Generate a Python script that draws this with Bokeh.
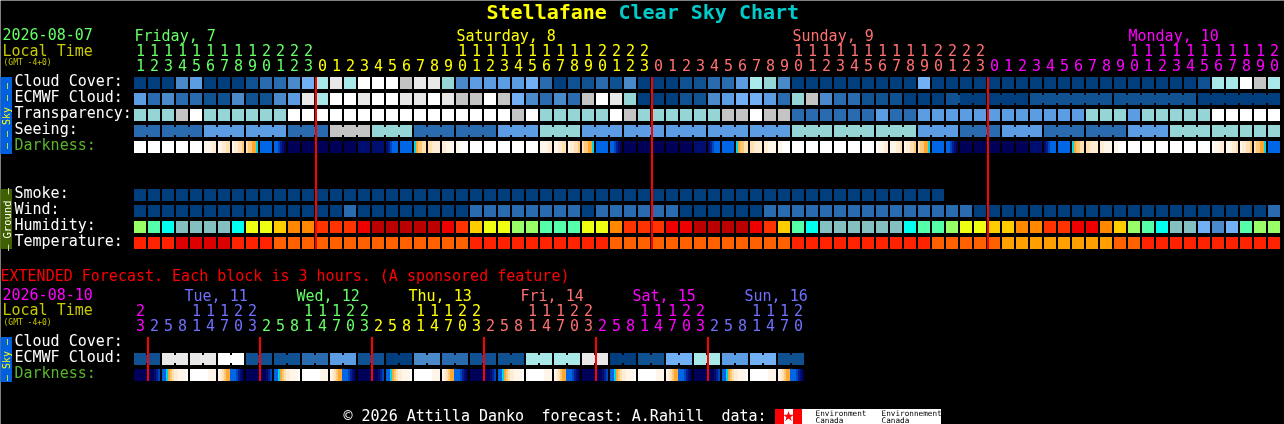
from math import pi
from bokeh.embed import file_html
from bokeh.resources import INLINE
from bokeh.models import Range1d, ColumnDataSource
from bokeh.plotting import figure
from bokeh.core.properties import value

# ---------------- data ----------------
TITLE_A, TITLE_B = "Stellafane", "Clear Sky Chart"
ROW_LABELS_SKY = ["Cloud Cover:", "ECMWF Cloud:", "Transparency:", "Seeing:", "Darkness:"]
ROW_LABELS_GROUND = ["Smoke:", "Wind:", "Humidity:", "Temperature:"]
ROW_LABELS_EXT = ["Cloud Cover:", "ECMWF Cloud:", "Darkness:"]

HOURS = [11,12,13,14,15,16,17,18,19,20,21,22,23,
         0,1,2,3,4,5,6,7,8,9,10,11,12,13,14,15,16,17,18,19,20,21,22,23,
         0,1,2,3,4,5,6,7,8,9,10,11,12,13,14,15,16,17,18,19,20,21,22,23,
         0,1,2,3,4,5,6,7,8,9,10,11,12,13,14,15,16,17,18,19,20]
HOUR_DAY = [0]*13 + [1]*24 + [2]*24 + [3]*21
DAYS = [("Friday, 7", 0), ("Saturday, 8", 23), ("Sunday, 9", 47), ("Monday, 10", 71)]
DAY_COLORS = ["#66ff66", "#ffff00", "#ff7070", "#ff00ff"]

EXT_HOURS = [23, 2,5,8,11,14,17,20,23, 2,5,8,11,14,17,20,23, 2,5,8,11,14,17,20,23,
             2,5,8,11,14,17,20,23, 2,5,8,11,14,17,20,23, 2,5,8,11,14,17,20]
EXT_HOUR_DAY = [0] + [1]*8 + [2]*8 + [3]*8 + [4]*8 + [5]*8 + [6]*7
EXT_DAYS = ["Tue, 11", "Wed, 12", "Thu, 13", "Fri, 14", "Sat, 15", "Sun, 16"]
EXT_DAY_COLORS = ["#ff00ff", "#7070ff", "#66ff66", "#ffff00", "#ff7070", "#ff00ff", "#7070ff"]

SKY_PALETTE = ["#003e7d", "#0f5191", "#2a6bb0", "#4a8acb", "#5c9ce2", "#72b0f5",
               "#95d5d5", "#a8e8e8", "#c4c4c4", "#e8e8e8", "#ffffff"]

CLOUD = [0,0,0,3,4,0,0,0,1,2,2,3,5,7,9,7,10,10,10,8,9,9,
         6,3,4,4,4,4,5,2,0,1,1,2,1,3,0,0,0,1,1,2,2,4,7,6,3,0,0,0,0,0,
         0,0,0,0,5,0,0,0,0,0,0,0,0,0,0,0,0,0,0,0,0,0,0,0,1,7,7,10,8,7]
ECMWF = [4,2,3,2,2,1,1,3,1,1,3,4,9,7,10,10,9,10,10,9,9,10,
         9,8,8,10,8,5,3,2,3,2,8,10,9,6,0,0,0,1,1,3,4,5,5,4,2,6,8,3,2,2,
         1,1,1,0,0,0,1,0,0,0,0,0,1,1,1,1,1,1,1,1,1,1,1,1,0,0,0,0,0,0]
ECMWF_GROUPS = [(58, 3), (61, 3), (64, 6), (70, 6), (76, 6)]
TRANSP = [6,6,6,8,10,6,6,6,6,6,6,10,10,10,10,10,10,10,10,10,10,10,
          10,10,10,10,10,8,10,6,6,6,6,6,10,8,6,6,6,6,6,6,8,8,10,8,8,2,2,2,2,2,
          2,4,2,2,4,4,4,4,4,4,4,4,4,4,4,4,6,6,6,4,6,6,6,6,6,10,10,10,10,10]
SEEING = [2,2,2,2,2,4,4,4,4,4,4,2,2,2,8,8,8,6,6,6,2,2,2,
          2,2,2,4,4,4,6,6,6,4,4,4,4,4,4,4,4,4,4,4,4,4,4,4,6,6,6,6,6,6,
          6,6,6,4,4,4,2,2,2,4,4,4,2,2,2,2,2,2,4,4,4,6,6,6,6,6,6,6,6]
SEEING_GROUPS = [2,3,3,3,3,3,3,3,3,3,3,3,3,3,3,3,3,3,3,3,3,3,3,3,3,3,2]
SMOKE = [0]*58
WIND = [0,0,0,0,0,0,0,0,0,0,0,0,0,0,0,2,0,0,0,0,0,0,0,0,
        2,2,2,2,2,2,2,2,0,2,2,2,2,2,2,0,0,0,0,0,0,2,2,2,2,2,2,2,
        2,2,2,2,2,2,2,2,0,0,0,0,0,0,0,0,0,0,0,0,0,0,0,0,0,0,0,0,0,2]
HUMID_PALETTE = ["#85c0c0","#00ffee","#55ffaa","#99ff66","#eeff11","#ffcc00",
                 "#ff8800","#ff3300","#ee0000","#bb0000","#4a8acb","#72b0f5"]
HUMID = [3,2,1,0,0,0,0,1,4,4,5,6,6,7,7,7,8,9,9,9,9,9,
         8,7,5,4,4,3,3,2,2,2,4,4,6,7,7,7,8,8,9,9,9,9,8,7,5,2,1,0,0,0,
         0,0,0,1,2,2,3,4,4,5,5,6,6,7,7,8,8,6,5,3,2,1,0,0,11,10,11,2,3,3]
TEMP_PALETTE = ["#ff2200", "#dd0000", "#ff6000", "#ffa000"]
TEMP = [0,0,0,1,1,1,1,0,0,0,2,2,2,2,2,2,2,2,2,2,2,2,2,2,
        0,0,0,0,0,0,0,0,0,0,2,2,2,2,2,2,2,2,2,2,2,2,2,0,0,0,0,0,
        0,0,0,0,0,2,2,2,2,2,3,3,3,3,3,3,3,3,2,2,0,0,0,0,0,0,0,0,0,0]

DARK_PALETTE = {"W":"#ffffff","a":"#fff6ea","b":"#ffecd2","c":"#ffe0b0","d":"#ffc878","e":"#ffa630",
                "C":"#00d8e8","B":"#0066e6","m":"#0044c0","n":"#002090","N":"#000e72","k":"#000058"}
DARK = ["WWWWWW","WWWWWW","WWWWWW","WWWWWW","WWWWWW","aaaabb","aabbcc","abbccd","cddeeC","BBBBBB","BBmnNk",
        "kkkkkk","kkkkkk","kkkkkk","kkkkkk","kkkkkk","NNNNNN","NNNNNN","NnmBBB","BBBBBB","Ceddcc","ccbbbb",
        "bbaaaa","aaWWWW","WWWWWW","WWWWWW","WWWWWW","WWWWWW","WWWWWW","aaaabb","aabbcc","abbccd","cddeeC",
        "BBBBBB","BBmnNk","kkkkkk","kkkkkk","kkkkkk","kkkkkk","kkkkkk","NNNNNN","NnmBBB","BBBBBB","Ceddcc",
        "ccbbbb","bbaaaa","aaWWWW","WWWWWW","WWWWWW","WWWWWW","WWWWWW","WWWWWW","WWWWWW","Waaabb","aaabbc",
        "abbccd","cddeeC","BBBBBB","BBmnNk","kkkkkk","kkkkkk","kkkkkk","kkkkkk","kkkkkk","NNNNNN","NnmBBB",
        "BBBBBB","Ceddcc","ccbbbb","bbaaaa","aaWWWW","WWWWWW","WWWWWW","WWWWWW","WWWWWW","WWWWWW","WWWWWW",
        "Waaabb","aaabbc","abbccd","cddeeC","BBBBBB"]

EXT_ECMWF = [1,9,9,10,1,1,2,4,1,0,3,2,1,1,7,7,9,0,1,5,7,4,5,1]
EXT_DARK = ["kkkkkkkkkkNnm","BBCedcbbaaaaW","WWWWWWWWWaaaa","abcdeeBBBmnNk"] * 6

RED_COLS = [13, 37, 61]
EXT_RED_COLS = [1, 9, 17, 25, 33, 41]

FOOTER = ["\u00a9 2026 Attilla Danko", "forecast: A.Rahill", "data:"]
FOOTER_X = [343, 541, 721]
EXT_NOTE = "EXTENDED Forecast. Each block is 3 hours. (A sponsored feature)"

# ---------------- layout: one column = 14px, one row = 16px ----------------
W, H = 1284, 424
def X(px): return (px - 140) / 14
def Y(py): return (py - 83) / 16
CELL_W, CELL_H = 12 / 14, 12 / 16
FONT = value("DejaVu Sans Mono")
# Bokeh paints shapes through a half-pixel translation: offset the ranges so blocks land on
# whole pixels; texts are not translated, so they take the half pixel back
HALF_X, HALF_Y = 0.5 / 14, 0.5 / 16

p = figure(width=W, height=H, output_backend="svg", toolbar_location=None,
           x_range=Range1d(X(0) + HALF_X, X(W) + HALF_X),
           y_range=Range1d(Y(H) + HALF_Y, Y(0) + HALF_Y),
           x_axis_type=None, y_axis_type=None, min_border=0,
           background_fill_color="black", border_fill_color="black",
           outline_line_color=None,
           styles={"position": "fixed", "left": "0px", "top": "0px"})
p.xgrid.visible = False
p.ygrid.visible = False

R_CLOUD, R_ECMWF, R_TRANSP, R_SEEING, R_DARK = 0, 1, 2, 3, 4
R_SMOKE, R_WIND, R_HUMID, R_TEMP = 7, 8, 9, 10
RE_CLOUD, RE_ECMWF, RE_DARK = Y(343), Y(359), Y(375)

cells = dict(x=[], y=[], c=[])
def add_row(values, row, palette):
    for i, v in enumerate(values):
        cells["x"].append(i); cells["y"].append(row); cells["c"].append(palette[v])
add_row(CLOUD, R_CLOUD, SKY_PALETTE)
add_row(ECMWF, R_ECMWF, SKY_PALETTE)
add_row(TRANSP, R_TRANSP, SKY_PALETTE)
add_row(SEEING, R_SEEING, SKY_PALETTE)
add_row(SMOKE, R_SMOKE, SKY_PALETTE)
add_row(WIND, R_WIND, SKY_PALETTE)
add_row(HUMID, R_HUMID, HUMID_PALETTE)
add_row(TEMP, R_TEMP, TEMP_PALETTE)
for j, v in enumerate(EXT_ECMWF):
    for k in (0, 1):
        cells["x"].append(2 * j + k); cells["y"].append(RE_ECMWF); cells["c"].append(SKY_PALETTE[v])
p.rect(x="x", y="y", width=CELL_W, height=CELL_H, fill_color="c", line_color=None,
       source=ColumnDataSource(cells))

# narrow joins between blocks that share one forecast step
joins = dict(x=[], y=[], c=[])
start = 0
for size in SEEING_GROUPS:
    for i in range(start, start + size - 1):
        joins["x"].append(i + 0.5); joins["y"].append(R_SEEING); joins["c"].append(SKY_PALETTE[SEEING[i]])
    start += size
for start, size in ECMWF_GROUPS:
    for i in range(start, start + size - 1):
        joins["x"].append(i + 0.5); joins["y"].append(R_ECMWF); joins["c"].append(SKY_PALETTE[ECMWF[i]])
for j, v in enumerate(EXT_ECMWF):
    joins["x"].append(2 * j + 0.5); joins["y"].append(RE_ECMWF); joins["c"].append(SKY_PALETTE[v])
p.rect(x="x", y="y", width=2 / 14, height=8 / 16, fill_color="c", line_color=None,
       source=ColumnDataSource(joins))

# darkness stripes, 2px each; each stripe reaches under the next so no seam shows
st = dict(l=[], r=[], t=[], b=[], c=[])
def add_stripes(code, first_col, row):
    for k, ch in enumerate(code):
        left = first_col - 6 / 14 + k * 2 / 14
        over = 1 / 14 if k < len(code) - 1 else 0
        st["l"].append(left); st["r"].append(left + 2 / 14 + over)
        st["t"].append(row - CELL_H / 2); st["b"].append(row + CELL_H / 2)
        st["c"].append(DARK_PALETTE[ch])
for i, code in enumerate(DARK):
    add_stripes(code, i, R_DARK)
for j, code in enumerate(EXT_DARK):
    add_stripes(code, 2 * j, RE_DARK)
p.quad(left="l", right="r", top="t", bottom="b", fill_color="c", line_color=None,
       source=ColumnDataSource(st))

# midnight markers
p.segment(x0=[c - 6 / 14 for c in RED_COLS], x1=[c - 6 / 14 for c in RED_COLS],
          y0=Y(77), y1=Y(249), line_color="#ff0000", line_width=2)
p.segment(x0=[c - 6 / 14 for c in EXT_RED_COLS], x1=[c - 6 / 14 for c in EXT_RED_COLS],
          y0=Y(337), y1=Y(381), line_color="#ff0000", line_width=2)

# Bokeh places an "alphabetic" text lower than the asked baseline; this undoes it
def lift(t, size):
    return size * 7 / 15 if all(ch in "0123456789-" for ch in t) else size / 3

def text(x, y, t, color, size=15, style="normal", align="left", base="alphabetic", angle=0, font=FONT):
    dy = lift(t, size) / 16 if base == "alphabetic" else 0
    p.text(x=[x + HALF_X], y=[y - dy + HALF_Y], text=[t], text_color=color, text_font=font,
           text_font_size=f"{size}px", text_font_style=style,
           text_align=align, text_baseline=base, angle=angle)

def texts(xs, ys, ts, cs, size=15):
    dy = 5.5 / 16
    p.text(x=[x + HALF_X for x in xs], y=[y - dy + HALF_Y for y in ys], text=ts, text_color=cs,
           text_font=FONT, text_font_size=f"{size}px",
           text_align="center", text_baseline="alphabetic")

# title
text(X(486), Y(18), TITLE_A, "#ffff00", size=20, style="bold")
text(X(618), Y(18), TITLE_B, "#00cccc", size=20, style="bold")

# upper header
text(X(2), Y(40), "2026-08-07", "#66ff66")
text(X(2), Y(55), "Local Time", "#c8c800")
text(X(3), Y(65), "(GMT -4+0)", "#c8c800", size=8)
for label, col in DAYS:
    text(X(134 + 14 * col), Y(40), label, DAY_COLORS[DAYS.index((label, col))])
tens = [i for i, h in enumerate(HOURS) if h >= 10]
texts(tens, [Y(55)] * len(tens), [str(HOURS[i] // 10) for i in tens], [DAY_COLORS[HOUR_DAY[i]] for i in tens])
texts(list(range(len(HOURS))), [Y(70)] * len(HOURS), [str(h % 10) for h in HOURS],
      [DAY_COLORS[d] for d in HOUR_DAY])

# row labels
LABEL_DROP = 2 / 16
for label, row in zip(ROW_LABELS_SKY, [R_CLOUD, R_ECMWF, R_TRANSP, R_SEEING, R_DARK]):
    text(X(14), row + LABEL_DROP, label, "#5ab52a" if label == "Darkness:" else "#ffffff")
for label, row in zip(ROW_LABELS_GROUND, [R_SMOKE, R_WIND, R_HUMID, R_TEMP]):
    text(X(14), row + LABEL_DROP, label, "#ffffff")
for label, row in zip(ROW_LABELS_EXT, [RE_CLOUD, RE_ECMWF, RE_DARK]):
    text(X(14), row + LABEL_DROP, label, "#5ab52a" if label == "Darkness:" else "#ffffff")

# side bars
def bar(px0, px1, py0, py1, color):
    p.quad(left=[X(px0)], right=[X(px1)], top=[Y(py0)], bottom=[Y(py1)], fill_color=color, line_color=None)
bar(0, 12, 77, 154, "#0060e0")
bar(0, 12, 189, 249, "#3f6000")
bar(0, 12, 337, 382, "#0060e0")
text(X(6), Y(115.5), "\u2014 \u2014 Sky \u2014 \u2014", "#ffff00", size=10, align="center", base="middle", angle=pi / 2)
text(X(6), Y(219), "\u2013 Ground \u2013", "#ffffff", size=10.5, align="center", base="middle", angle=pi / 2)
text(X(6), Y(359.5), "\u2014 Sky \u2014", "#ffff00", size=10, align="center", base="middle", angle=pi / 2)

# extended section
text(X(0), Y(280), EXT_NOTE, "#ff0000")
text(X(2), Y(300), "2026-08-10", "#ff00ff")
text(X(2), Y(314), "Local Time", "#c8c800")
text(X(3), Y(325), "(GMT -4+0)", "#c8c800", size=8)
for n, label in enumerate(EXT_DAYS):
    text(X(184 + 112 * n), Y(300), label, EXT_DAY_COLORS[n + 1])
etens = [i for i, h in enumerate(EXT_HOURS) if h >= 10]
texts(etens, [Y(315)] * len(etens), [str(EXT_HOURS[i] // 10) for i in etens],
      [EXT_DAY_COLORS[EXT_HOUR_DAY[i]] for i in etens])
texts(list(range(len(EXT_HOURS))), [Y(330)] * len(EXT_HOURS), [str(h % 10) for h in EXT_HOURS],
      [EXT_DAY_COLORS[d] for d in EXT_HOUR_DAY])

# footer and agency logo
for t, px in zip(FOOTER, FOOTER_X):
    text(X(px), Y(420), t, "#ffffff")
bar(775, 941, 409, 424, "#ffffff")
bar(775, 784, 409, 424, "#ff0000")
bar(793, 802, 409, 424, "#ff0000")
p.scatter(x=[X(788.5)], y=[Y(416.5)], marker="star", size=11, fill_color="#ff0000", line_color=None)
text(X(815), Y(416), "Environment", "#000000", size=7.7)
text(X(815), Y(423), "Canada", "#000000", size=7.7)
text(X(881), Y(416), "Environnement", "#000000", size=7.7)
text(X(881), Y(423), "Canada", "#000000", size=7.7)

open("out.html", "w").write(file_html(p, INLINE))
